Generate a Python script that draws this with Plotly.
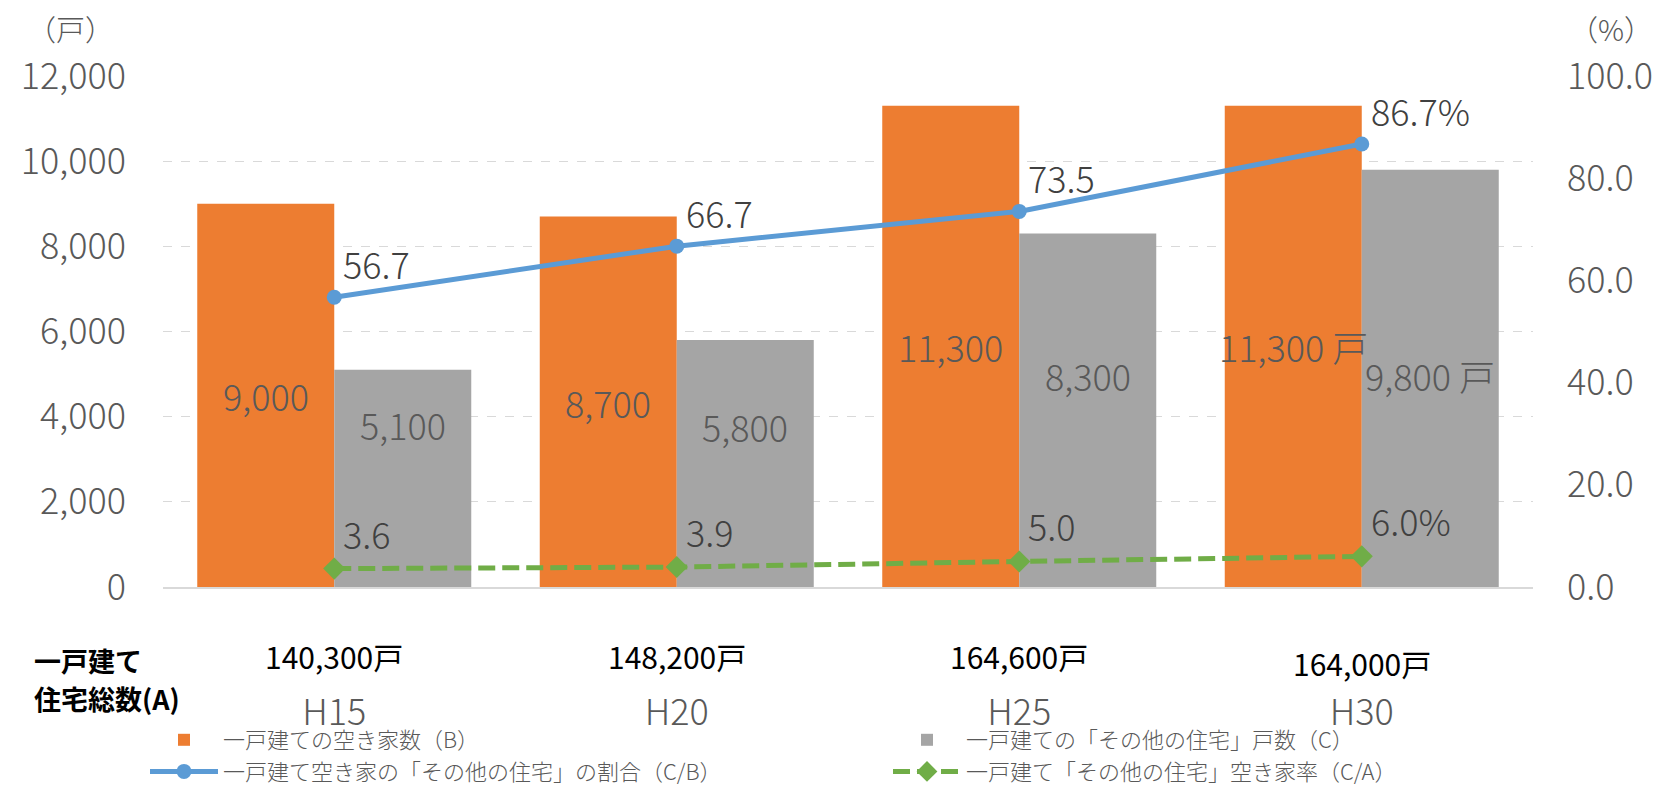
import plotly.graph_objects as go

# ---------------- data ----------------
categories = ["H15", "H20", "H25", "H30"]
total_houses = ["140,300戸", "148,200戸", "164,600戸", "164,000戸"]
vacant_b = [9000, 8700, 11300, 11300]        # 一戸建ての空き家数（B）
other_c = [5100, 5800, 8300, 9800]           # 一戸建ての「その他の住宅」戸数（C）
ratio_cb = [56.7, 66.7, 73.5, 86.7]          # 割合（C/B） %
rate_ca = [3.6, 3.9, 5.0, 6.0]               # 空き家率（C/A） %
series_names = [
    "一戸建ての空き家数（B）",
    "一戸建ての「その他の住宅」戸数（C）",
    "一戸建て空き家の「その他の住宅」の割合（C/B）",
    "一戸建て「その他の住宅」空き家率（C/A）",
]
left_ticks = [0, 2000, 4000, 6000, 8000, 10000, 12000]
right_ticks = [0, 20, 40, 60, 80, 100]

# ---------------- style ----------------
FONT = "Noto Sans CJK JP"
GRAY_TXT = "#595959"
DARK_TXT = "#404040"
ORANGE = "#ED7D31"
GRAY = "#A5A5A5"
BLUE = "#5B9BD5"
GREEN = "#70AD47"
W, H = 1670, 792
L, R, T, B = 163, 1533, 76, 587
BARGAP = 0.2
LIGHT = 300


def py(pix):
    """pixel row -> paper y"""
    return (B - pix) / (B - T)


def px(pix):
    """pixel column -> paper x"""
    return (pix - L) / (R - L)


def f(size, color=GRAY_TXT, weight=LIGHT):
    return dict(family=FONT, size=size, color=color, weight=weight)


idx = list(range(len(categories)))
half = (1 - BARGAP) / 4  # offset of each bar centre from category centre

fig = go.Figure()
fig.add_trace(go.Bar(x=idx, y=vacant_b, name=series_names[0], marker_color=ORANGE,
                     marker_line_width=0))
fig.add_trace(go.Bar(x=idx, y=other_c, name=series_names[1], marker_color=GRAY,
                     marker_line_width=0))
fig.add_trace(go.Scatter(x=idx, y=ratio_cb, name=series_names[2], yaxis="y2",
                         mode="lines+markers", line=dict(color=BLUE, width=5),
                         marker=dict(symbol="circle", size=15, color=BLUE),
                         cliponaxis=False))
fig.add_trace(go.Scatter(x=idx, y=rate_ca, name=series_names[3], yaxis="y2",
                         mode="lines+markers",
                         line=dict(color=GREEN, width=5, dash="17px,7px"),
                         marker=dict(symbol="diamond", size=17, color=GREEN),
                         cliponaxis=False))

ann = []
# bar value labels
gray_shift = [54, 38, 35, 3]
n = len(categories)
for i in idx:
    suffix = " 戸" if i == n - 1 else ""
    ann.append(dict(x=i - half, y=vacant_b[i] / 2, xref="x", yref="y",
                    xanchor="center", yanchor="middle",
                    text=f"{vacant_b[i]:,}{suffix}", showarrow=False, font=f(36)))
    ann.append(dict(x=i + half, y=other_c[i] / 2, xref="x", yref="y", yshift=gray_shift[i],
                    xanchor="center", yanchor="middle",
                    text=f"{other_c[i]:,}{suffix}", showarrow=False, font=f(36)))
    pct = "%" if i == n - 1 else ""
    ann.append(dict(x=i, y=ratio_cb[i], xref="x", yref="y2", xanchor="left", yanchor="middle",
                    xshift=7, yshift=34, text=f"{ratio_cb[i]:.1f}{pct}", showarrow=False,
                    font=f(36, DARK_TXT)))
    ann.append(dict(x=i, y=rate_ca[i], xref="x", yref="y2", xanchor="left", yanchor="middle",
                    xshift=7, yshift=36, text=f"{rate_ca[i]:.1f}{pct}", showarrow=False,
                    font=f(36, DARK_TXT)))
    # total number of detached houses
    ann.append(dict(x=i, y=py(656 + (7 if i == n - 1 else 0)), xref="x", yref="paper",
                    xanchor="center", yanchor="middle",
                    text=total_houses[i], showarrow=False,
                    font=f(30, "#000000", 400)))

ann.append(dict(x=px(32), y=py(660), xref="paper", yref="paper", xanchor="left",
                yanchor="middle", text="<b>一戸建て</b>", showarrow=False,
                font=f(27, "#000000", 700)))
ann.append(dict(x=px(32), y=py(698), xref="paper", yref="paper", xanchor="left",
                yanchor="middle", text="<b>住宅総数(A)</b>", showarrow=False,
                font=f(27, "#000000", 700)))
ann.append(dict(x=px(70), y=py(28), xref="paper", yref="paper", xanchor="center",
                yanchor="middle", text="（戸）", showarrow=False, font=f(29)))
ann.append(dict(x=px(1611), y=py(28), xref="paper", yref="paper", xanchor="center",
                yanchor="middle", text="（%）", showarrow=False, font=f(29)))

fig.update_layout(
    width=W, height=H,
    margin=dict(l=L, r=W - R, t=T, b=H - B, pad=0, autoexpand=False),
    paper_bgcolor="white", plot_bgcolor="white",
    barmode="group", bargap=BARGAP, bargroupgap=0,
    font=dict(family=FONT, color=GRAY_TXT),
    xaxis=dict(range=[-0.5, n - 0.5], tickvals=idx, ticktext=categories,
               showgrid=False, zeroline=False, showline=True, linecolor="#D9D9D9",
               linewidth=2, ticks="", ticklabelstandoff=93, tickfont=f(36)),
    yaxis=dict(range=[0, 12000], tickvals=left_ticks, tickformat=",",
               showgrid=True, gridcolor="#D9D9D9", griddash="dash", gridwidth=1,
               zeroline=False, showline=False, ticks="", ticklabelstandoff=36,
               tickfont=f(36)),
    yaxis2=dict(range=[0, 100], tickvals=right_ticks, tickformat=".1f",
                overlaying="y", side="right", showgrid=False, zeroline=False,
                showline=False, ticks="", ticklabelstandoff=33, tickfont=f(36)),
    legend=dict(orientation="h", x=px(145), y=py(719), xanchor="left", yanchor="top",
                entrywidth=660, itemwidth=68, traceorder="normal", tracegroupgap=0,
                font=f(22), bgcolor="rgba(0,0,0,0)"),
    annotations=ann,
    showlegend=True,
)

fig.write_html("out.html")
